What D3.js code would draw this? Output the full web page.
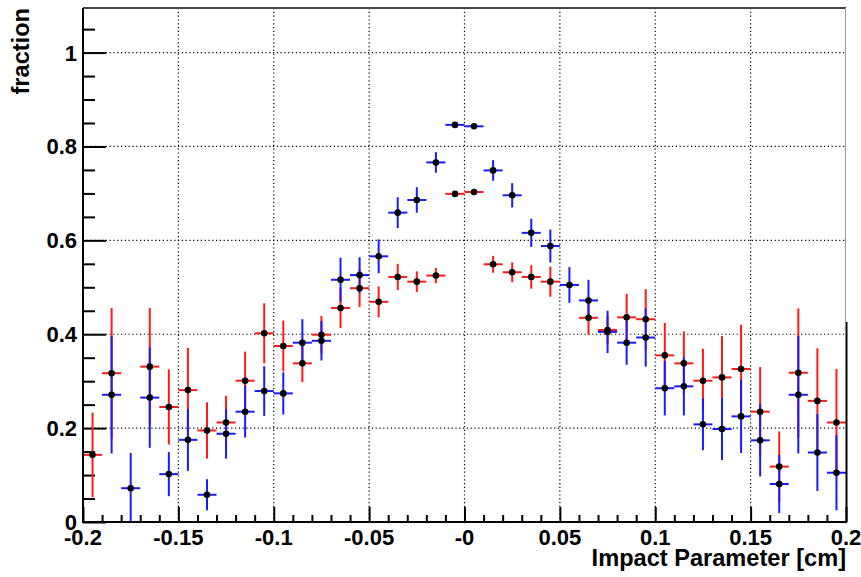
<!DOCTYPE html>
<html>
	<head>
		<title>fraction vs impact parameter</title>
		<script src="https://d3js.org/d3.v7.min.js"></script>
		<style>
			body { margin: 0; background: white; }
			text { font-family: "Liberation Sans", Arial, sans-serif; font-weight: bold; fill: black; }
		</style>
	</head>
	<body>
		<svg width="861" height="577"></svg>

		<script type="text/javascript">
			// bin centres (cm)
			var binCenters = [-0.195, -0.185, -0.175, -0.165, -0.155, -0.145, -0.135, -0.125, -0.115, -0.105,
				-0.095, -0.085, -0.075, -0.065, -0.055, -0.045, -0.035, -0.025, -0.015, -0.005,
				0.005, 0.015, 0.025, 0.035, 0.045, 0.055, 0.065, 0.075, 0.085, 0.095,
				0.105, 0.115, 0.125, 0.135, 0.145, 0.155, 0.165, 0.175, 0.185, 0.195];
			var binHalfWidth = 0.005;

			var redValues = [0.143, 0.317, null, 0.331, 0.245, 0.281, 0.195, 0.212, 0.301, 0.402,
				0.375, 0.338, 0.399, 0.456, 0.498, 0.469, 0.522, 0.512, 0.525, 0.699,
				0.703, 0.549, 0.532, 0.522, 0.512, null, 0.435, 0.409, 0.436, 0.432,
				0.355, 0.338, 0.301, 0.308, 0.326, 0.235, 0.118, 0.318, 0.258, 0.212];
			var redErrors = [0.09, 0.139, null, 0.125, 0.08, 0.09, 0.06, 0.057, 0.062, 0.064,
				0.054, 0.04, 0.04, 0.043, 0.04, 0.033, 0.028, 0.022, 0.016, 0.004,
				0.004, 0.018, 0.021, 0.025, 0.032, null, 0.036, 0.03, 0.05, 0.064,
				0.069, 0.068, 0.068, 0.088, 0.094, 0.095, 0.075, 0.137, 0.112, 0.114];

			var blueValues = [null, 0.271, 0.072, 0.265, 0.102, 0.175, 0.058, 0.188, 0.235, 0.279,
				0.274, 0.382, 0.386, 0.516, 0.526, 0.566, 0.659, 0.686, 0.766, 0.846,
				0.843, 0.749, 0.696, 0.616, 0.588, 0.505, 0.472, 0.405, 0.382, 0.393,
				0.285, 0.289, 0.208, 0.198, 0.225, 0.174, 0.081, 0.271, 0.148, 0.105];
			var blueErrors = [null, 0.125, 0.075, 0.107, 0.047, 0.066, 0.033, 0.053, 0.055, 0.053,
				0.045, 0.05, 0.042, 0.047, 0.038, 0.036, 0.033, 0.027, 0.022, 0.004,
				0.004, 0.022, 0.026, 0.03, 0.035, 0.038, 0.044, 0.045, 0.047, 0.062,
				0.058, 0.062, 0.055, 0.066, 0.078, 0.077, 0.062, 0.125, 0.082, 0.08];

			var xTicks = [-0.2, -0.15, -0.1, -0.05, 0, 0.05, 0.1, 0.15, 0.2];
			var xTickLabels = ["-0.2", "-0.15", "-0.1", "-0.05", "-0", "0.05", "0.1", "0.15", "0.2"];
			var yTicks = [0, 0.2, 0.4, 0.6, 0.8, 1];
			var yTickLabels = ["0", "0.2", "0.4", "0.6", "0.8", "1"];

			var frameL = 83, frameR = 846, frameT = 8, frameB = 522;

			var svg = d3.select("svg");

			var x = d3.scaleLinear()
				.domain([-0.2, 0.2])
				.range([frameL, frameR]);

			var y = d3.scaleLinear()
				.domain([0, 1.095])
				.range([frameB, frameT]);

			// dotted grid
			svg.append("g")
				.selectAll("line")
				.data(xTicks.slice(1, -1))
				.enter().append("line")
				.attr("x1", function(d) { return x(d); })
				.attr("x2", function(d) { return x(d); })
				.attr("y1", frameT)
				.attr("y2", frameB)
				.attr("stroke", "black")
				.attr("stroke-width", 1.2)
				.attr("stroke-dasharray", "1.2,2.6");

			svg.append("g")
				.selectAll("line")
				.data(yTicks.slice(1))
				.enter().append("line")
				.attr("x1", frameL)
				.attr("x2", frameR)
				.attr("y1", function(d) { return y(d); })
				.attr("y2", function(d) { return y(d); })
				.attr("stroke", "black")
				.attr("stroke-width", 1.2)
				.attr("stroke-dasharray", "1.2,2.6");

			// x axis: ticks point up into the frame
			var xAxis = d3.axisTop(x)
				.tickValues(d3.range(-20, 21).map(function(i) { return i / 100; }))
				.tickSize(7)
				.tickFormat("");

			svg.append("g")
				.attr("transform", "translate(0," + frameB + ")")
				.call(xAxis)
				.call(function(g) {
					g.select(".domain").remove();
					g.selectAll(".tick line")
						.attr("stroke-width", 2)
						.attr("y2", function(d) { return Math.abs(Math.round(d * 100)) % 5 === 0 ? -15 : -7; });
				});

			var yAxis = d3.axisRight(y)
				.tickValues(d3.range(0, 22).map(function(i) { return i * 0.05; }))
				.tickSize(12)
				.tickFormat("");

			svg.append("g")
				.attr("transform", "translate(" + frameL + ",0)")
				.call(yAxis)
				.call(function(g) {
					g.select(".domain").remove();
					g.selectAll(".tick line")
						.attr("stroke-width", 2)
						.attr("x2", function(d) { return Math.round(d * 20) % 4 === 0 ? 23 : 12; });
				});

			// tick labels
			svg.append("g")
				.selectAll("text")
				.data(xTicks)
				.enter().append("text")
				.attr("x", function(d) { return x(d); })
				.attr("y", 545)
				.attr("text-anchor", "middle")
				.attr("font-size", 22)
				.text(function(d, i) { return xTickLabels[i]; });

			svg.append("g")
				.selectAll("text")
				.data(yTicks)
				.enter().append("text")
				.attr("x", 77)
				.attr("y", function(d) { return y(d) + 8; })
				.attr("text-anchor", "end")
				.attr("font-size", 22)
				.text(function(d, i) { return yTickLabels[i]; });

			// axis titles
			svg.append("text")
				.attr("x", frameR)
				.attr("y", 566)
				.attr("text-anchor", "end")
				.attr("font-size", 23.6)
				.text("Impact Parameter [cm]");

			svg.append("text")
				.attr("transform", "translate(29," + frameT + ") rotate(-90)")
				.attr("text-anchor", "end")
				.attr("font-size", 23.6)
				.text("fraction");

			// data points with error bars
			svg.append("clipPath")
				.attr("id", "frame")
				.append("rect")
				.attr("x", frameL)
				.attr("y", frameT)
				.attr("width", frameR - frameL)
				.attr("height", frameB - frameT);

			var plot = svg.append("g").attr("clip-path", "url(#frame)");

			function drawSeries(values, errors, colour) {
				var pts = binCenters.map(function(c, i) {
					return { x: c, v: values[i], e: errors[i] };
				}).filter(function(d) { return d.v !== null; });

				var g = plot.append("g");

				g.selectAll(".h")
					.data(pts)
					.enter().append("line")
					.attr("x1", function(d) { return x(d.x - binHalfWidth); })
					.attr("x2", function(d) { return x(d.x + binHalfWidth); })
					.attr("y1", function(d) { return y(d.v); })
					.attr("y2", function(d) { return y(d.v); })
					.attr("stroke", colour)
					.attr("stroke-width", 2);

				g.selectAll(".v")
					.data(pts)
					.enter().append("line")
					.attr("x1", function(d) { return x(d.x); })
					.attr("x2", function(d) { return x(d.x); })
					.attr("y1", function(d) { return y(d.v - d.e); })
					.attr("y2", function(d) { return y(d.v + d.e); })
					.attr("stroke", colour)
					.attr("stroke-width", 2);

				return pts;
			}

			var redPts = drawSeries(redValues, redErrors, "#ff1a1a");
			var bluePts = drawSeries(blueValues, blueErrors, "#1a1aff");

			plot.append("g")
				.selectAll("circle")
				.data(redPts.concat(bluePts))
				.enter().append("circle")
				.attr("cx", function(d) { return x(d.x); })
				.attr("cy", function(d) { return y(d.v); })
				.attr("r", 3.3)
				.attr("fill", "black");

			// frame
			svg.append("line").attr("x1", frameL).attr("x2", frameR).attr("y1", frameT).attr("y2", frameT)
				.attr("stroke", "#444").attr("stroke-width", 2);
			svg.append("line").attr("x1", frameL).attr("x2", frameL).attr("y1", frameT).attr("y2", frameB)
				.attr("stroke", "black").attr("stroke-width", 2);
			svg.append("line").attr("x1", frameL - 1).attr("x2", frameR + 1).attr("y1", frameB).attr("y2", frameB)
				.attr("stroke", "black").attr("stroke-width", 2);
			svg.append("line").attr("x1", frameR - 0.5).attr("x2", frameR - 0.5).attr("y1", frameT).attr("y2", 322)
				.attr("stroke", "#999").attr("stroke-width", 1);
			svg.append("line").attr("x1", frameR + 0.5).attr("x2", frameR + 0.5).attr("y1", 322).attr("y2", frameB)
				.attr("stroke", "black").attr("stroke-width", 2);
		</script>
	</body>
</html>
